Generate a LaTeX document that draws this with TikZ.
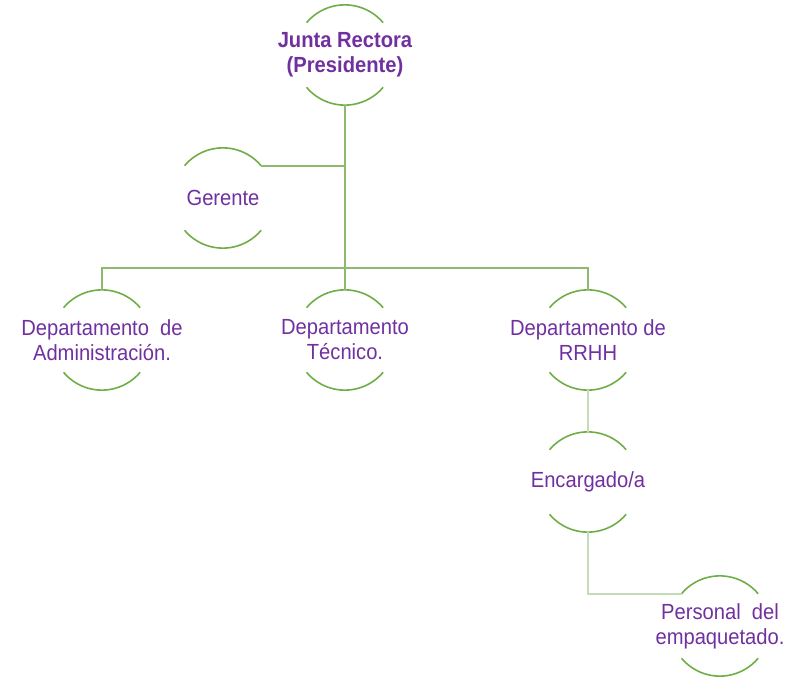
\documentclass[tikz,border=0pt]{standalone}
\usepackage{fontspec}
\setmainfont{Liberation Sans}[FakeStretch=0.92]
\definecolor{orgpurple}{HTML}{7030A0}
\definecolor{arcgreen}{HTML}{70AD47}
\definecolor{conngreen}{HTML}{8DBA6C}
\definecolor{paleconn}{HTML}{C5DDB6}
\tikzset{
  unit/.style={circle,minimum size=100bp,inner sep=0pt},
  unittext/.style={align=center,text=orgpurple,inner sep=0pt,
    font=\fontsize{22}{25}\selectfont},
  arcline/.style={arcgreen,line width=1.6bp},
  conn/.style={conngreen,line width=1.8bp},
  paleline/.style={paleconn,line width=1.8bp}
}
\begin{document}
\begin{tikzpicture}[x=1bp,y=1bp]
\useasboundingbox (0,0) rectangle (797,-681);

\node[unit,label={[unittext,font=\fontsize{22}{25}\selectfont\bfseries]center:{Junta Rectora\\(Presidente)}}] (jr) at (345,-55) {};
\node[unit,label={[unittext]center:{Gerente}}] (ger) at (223,-198) {};
\node[unit,label={[unittext]center:{Departamento\ \ de\\Administración.}}] (adm) at (102,-340) {};
\node[unit,label={[unittext]center:{Departamento\\Técnico.}}] (tec) at (345,-340) {};
\node[unit,label={[unittext]center:{Departamento de\\RRHH}}] (rrhh) at (588,-340) {};
\node[unit,label={[unittext]center:{Encargado/a}}] (enc) at (588,-482) {};
\node[unit,label={[unittext]center:{Personal\ \ del\\empaquetado.}}] (emp) at (720,-626) {};

% arcs above and below each unit
\foreach \n in {jr,ger,adm,tec,rrhh,enc,emp}{
  \draw[arcline] (\n.140) arc[start angle=140,end angle=40,radius=50];
  \draw[arcline] (\n.220) arc[start angle=220,end angle=320,radius=50];
}

\coordinate (bus) at (345,-268);
\draw[conn] (jr.south) -- (bus);
\draw[conn] (ger.40) -- (ger.40 -| jr.south);
\draw[conn] (bus) -| (adm.north);
\draw[conn] (bus) -| (rrhh.north);
\draw[conn] (bus) -- (tec.north);

\draw[paleline] (rrhh.south) -- (enc.north);
\draw[paleline] (enc.south) |- (emp.140);
\end{tikzpicture}
\end{document}
